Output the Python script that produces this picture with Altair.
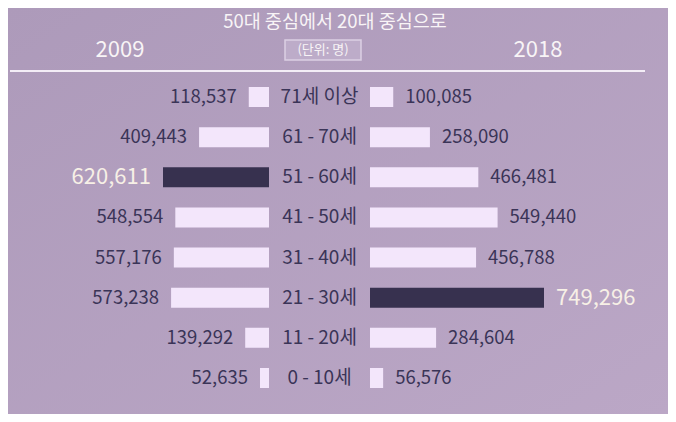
import altair as alt
import pandas as pd

ages = ["71세 이상", "61 - 70세", "51 - 60세", "41 - 50세",
        "31 - 40세", "21 - 30세", "11 - 20세", "0 - 10세"]
pop_2009 = [118537, 409443, 620611, 548554, 557176, 573238, 139292, 52635]
pop_2018 = [100085, 258090, 466481, 549440, 456788, 749296, 284604, 56576]

title_text = "50대 중심에서 20대 중심으로"
left_year = "2009"
right_year = "2018"
unit_text = "(단위: 명)"

FONT = "Noto Sans CJK KR"
DARK = "#37314f"
DARK_TXT = "#3a3457"
LIGHT_BAR = "#f3e6fb"
HL_TXT = "#f7f0e6"
WHITE = "#f8f4f6"

left = pd.DataFrame({"age": ages, "v": pop_2009})
left["hl"] = left["v"] == left["v"].max()
right = pd.DataFrame({"age": ages, "v": pop_2018})
right["hl"] = right["v"] == right["v"].max()

Y = alt.Y("age:N", sort=ages, axis=None,
          scale=alt.Scale(type="point", range=[89, 370], padding=0))

bar_color = alt.condition("datum.hl", alt.value(DARK), alt.value(LIGHT_BAR))
txt_color = alt.condition("datum.hl", alt.value(HL_TXT), alt.value(DARK_TXT))
txt_size = alt.condition("datum.hl", alt.value(22), alt.value(18.5))

XL = alt.X("v:Q", axis=None, scale=alt.Scale(zero=True, nice=False, range=[261, 155]))
XR = alt.X("v:Q", axis=None, scale=alt.Scale(zero=True, nice=False, range=[362, 536]))

left_bars = alt.Chart(left).mark_bar(size=20).encode(x=XL, y=Y, color=bar_color)
left_txt = alt.Chart(left).mark_text(align="right", baseline="middle", dx=-12, font=FONT).encode(
    x=XL, y=Y, text=alt.Text("v:Q", format=","), color=txt_color, size=txt_size)
left_layer = alt.layer(left_bars, left_txt)

right_bars = alt.Chart(right).mark_bar(size=20).encode(x=XR, y=Y, color=bar_color)
right_txt = alt.Chart(right).mark_text(align="left", baseline="middle", dx=12, font=FONT).encode(
    x=XR, y=Y, text=alt.Text("v:Q", format=","), color=txt_color, size=txt_size)
right_layer = alt.layer(right_bars, right_txt)

center = alt.Chart(pd.DataFrame({"age": ages})).mark_text(
    align="center", baseline="middle", font=FONT, fontSize=19, color=DARK_TXT
).encode(x=alt.value(311.5), y=Y, text="age:N")

bg = alt.Chart(pd.DataFrame({"a": [0]})).mark_rect(
    color=alt.Gradient(gradient="linear",
                       stops=[alt.GradientStop(color="#ad9aba", offset=0),
                              alt.GradientStop(color="#bba7c6", offset=1)],
                       x1=0, y1=0, x2=1, y2=1)
).encode(x=alt.value(0), x2=alt.value(660), y=alt.value(0), y2=alt.value(406))

title = alt.Chart(pd.DataFrame({"t": [title_text]})).mark_text(
    align="center", baseline="middle", font=FONT, fontSize=18.5, color=WHITE
).encode(x=alt.value(327), y=alt.value(14), text="t:N")

y09 = alt.Chart(pd.DataFrame({"t": [left_year]})).mark_text(
    align="center", baseline="middle", font=FONT, fontSize=22, color=WHITE
).encode(x=alt.value(112), y=alt.value(42), text="t:N")

y18 = alt.Chart(pd.DataFrame({"t": [right_year]})).mark_text(
    align="center", baseline="middle", font=FONT, fontSize=22, color=WHITE
).encode(x=alt.value(530), y=alt.value(42), text="t:N")

box = alt.Chart(pd.DataFrame({"a": [0]})).mark_rect(
    fill="#bdacc9", stroke="#dccfe4", strokeWidth=1.5
).encode(x=alt.value(277), x2=alt.value(353), y=alt.value(32), y2=alt.value(52))

unit = alt.Chart(pd.DataFrame({"t": [unit_text]})).mark_text(
    align="center", baseline="middle", font=FONT, fontSize=13, color=WHITE
).encode(x=alt.value(315), y=alt.value(42), text="t:N")

line = alt.Chart(pd.DataFrame({"a": [0]})).mark_rule(color="#f3edf6", strokeWidth=2).encode(
    x=alt.value(2), x2=alt.value(637), y=alt.value(63))

chart = alt.layer(
    bg, title, y09, y18, box, unit, line, left_layer, right_layer, center
).resolve_scale(x="independent").properties(
    width=660, height=406,
    autosize=alt.AutoSizeParams(type="fit", contains="padding"),
    padding=0,
    background="#b3a0bf",
).configure_view(stroke=None)

chart.save("out.html", embed_options={"renderer": "svg", "actions": False})
